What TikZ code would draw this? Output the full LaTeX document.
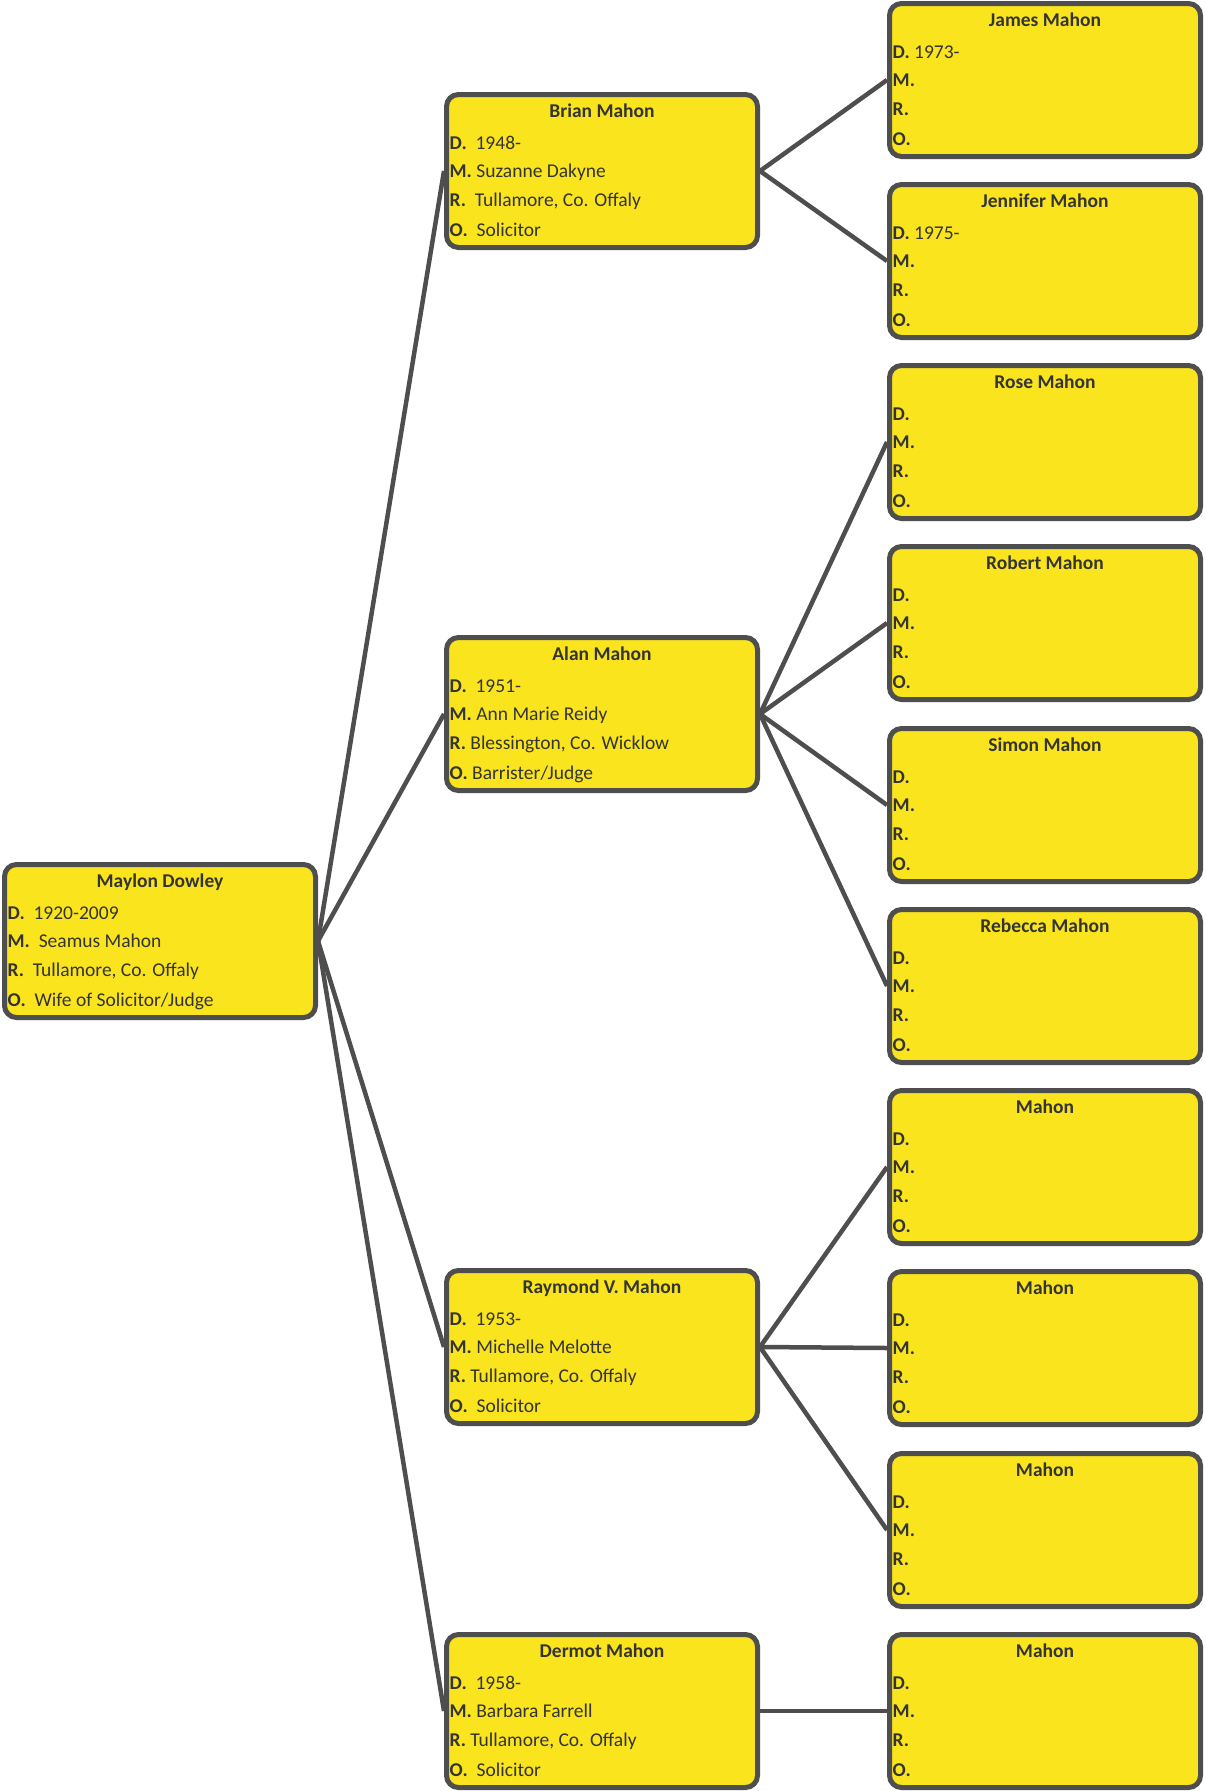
\documentclass[tikz,border=0pt]{standalone}
\usepackage{fontspec}
\setmainfont{Carlito}
\usetikzlibrary{backgrounds}

\definecolor{cardyellow}{RGB}{249,228,30}
\definecolor{cardgray}{RGB}{78,78,78}
\definecolor{inkgray}{RGB}{52,52,52}

% one card: name, centre, title, D., M., R., O.
\newcommand{\famcard}[7]{%
  \node[card] (#1) at (#2) {};
  \node[cardhead] (#1-name) at ([yshift=54pt]#1.center) {#3};
  \node[cardrow] (#1-d) at ([xshift=5.5pt,yshift=22pt]#1.west) {\textbf{D.}#4};
  \node[cardrow] (#1-m) at ([xshift=5.5pt,yshift=-6pt]#1.west) {\textbf{M.}#5};
  \node[cardrow] (#1-r) at ([xshift=5.5pt,yshift=-35pt]#1.west) {\textbf{R.}#6};
  \node[cardrow] (#1-o) at ([xshift=5.5pt,yshift=-65pt]#1.west) {\textbf{O.}#7};
}

\begin{document}
\begin{tikzpicture}[x=1pt,y=-1pt,
  card/.style={draw=cardgray,fill=cardyellow,line width=5pt,rounded corners=12pt,
    minimum width=311pt,minimum height=153pt,inner sep=0pt},
  cardhead/.style={anchor=base,inner sep=0pt,text=inkgray,font=\fontsize{19.5}{24}\selectfont\bfseries},
  cardrow/.style={anchor=base west,inner sep=0pt,text=inkgray,font=\fontsize{19.5}{24}\selectfont},
  link/.style={draw=cardgray,line width=4.5pt}]
\useasboundingbox (0,0) rectangle (1205,1791);

% generation 1
\famcard{maylon}{160,941}{Maylon Dowley}{\ \ 1920-2009}{\ \ Seamus Mahon}{\ \ Tullamore, Co. Offaly}{\ \ Wife of Solicitor/Judge}

% generation 2
\famcard{brian}{602,171}{Brian Mahon}{\ \ 1948-}{ Suzanne Dakyne}{\ \ Tullamore, Co. Offaly}{\ \ Solicitor}
\famcard{alan}{602,714}{Alan Mahon}{\ \ 1951-}{ Ann Marie Reidy}{ Blessington, Co. Wicklow}{ Barrister/Judge}
\famcard{raymond}{602,1347}{Raymond V. Mahon}{\ \ 1953-}{ Michelle Melotte}{ Tullamore, Co. Offaly}{\ \ Solicitor}
\famcard{dermot}{602,1711}{Dermot Mahon}{\ \ 1958-}{ Barbara Farrell}{ Tullamore, Co. Offaly}{\ \ Solicitor}

% generation 3
\famcard{james}{1045,80}{James Mahon}{ 1973-}{}{}{}
\famcard{jennifer}{1045,261}{Jennifer Mahon}{ 1975-}{}{}{}
\famcard{rose}{1045,442}{Rose Mahon}{}{}{}{}
\famcard{robert}{1045,623}{Robert Mahon}{}{}{}{}
\famcard{simon}{1045,805}{Simon Mahon}{}{}{}{}
\famcard{rebecca}{1045,986}{Rebecca Mahon}{}{}{}{}
\famcard{mahonA}{1045,1167}{Mahon}{}{}{}{}
\famcard{mahonB}{1045,1348}{Mahon}{}{}{}{}
\famcard{mahonC}{1045,1530}{Mahon}{}{}{}{}
\famcard{mahonD}{1045,1711}{Mahon}{}{}{}{}

% connectors, behind the cards
\begin{scope}[on background layer]
\foreach \kid in {brian,alan,raymond,dermot}
  \draw[link] (maylon.east) -- (\kid.west);
\foreach \kid in {james,jennifer}
  \draw[link] (brian.east) -- (\kid.west);
\foreach \kid in {rose,robert,simon,rebecca}
  \draw[link] (alan.east) -- (\kid.west);
\foreach \kid in {mahonA,mahonB,mahonC}
  \draw[link] (raymond.east) -- (\kid.west);
\draw[link] (dermot.east) -- (mahonD.west);
\end{scope}
\end{tikzpicture}
\end{document}
